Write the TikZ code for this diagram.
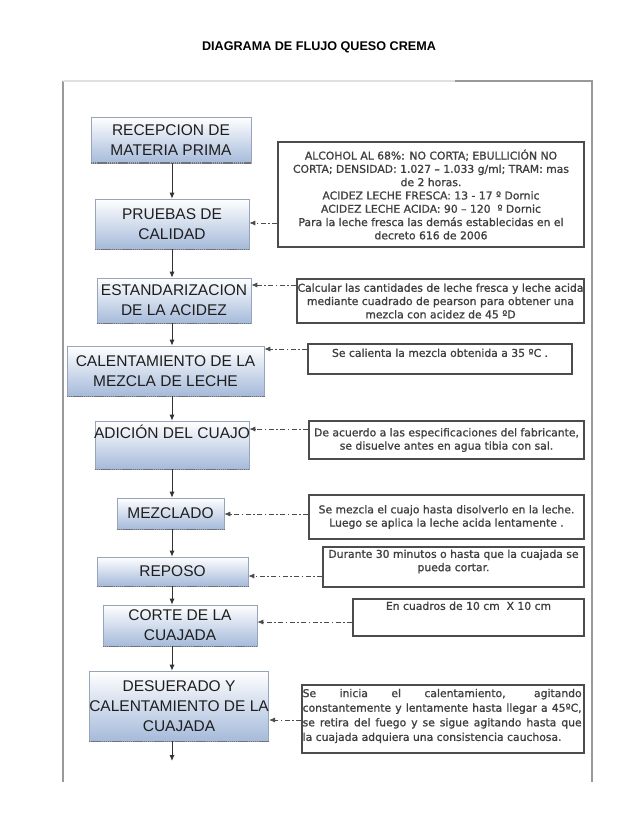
\documentclass[tikz,border=0pt]{standalone}
\usepackage{fontspec}
\setmainfont{Liberation Sans}
\newfontfamily\notefont{DejaVu Sans}[FakeBold=1.2]
\usetikzlibrary{arrows.meta}
\definecolor{procblue}{RGB}{165,186,218}
\definecolor{procborder}{RGB}{150,165,188}
\begin{document}
\begin{tikzpicture}[x=1pt,y=-1pt,
  proc/.style={draw=procborder, line width=0.6pt, top color=white, bottom color=procblue,
    inner sep=0pt, align=center, font=\fontsize{15.5}{20}\selectfont, text=black!88},
  proctext/.style={inner sep=0pt, font=\fontsize{15.5}{20}\selectfont, text=black!88},
  note/.style={draw=black!70, line width=1.1pt, inner sep=0pt, align=center,
    font=\notefont\fontsize{10.8}{13.3}\selectfont, text=black!75},
  notetext/.style={inner sep=0pt, align=center, font=\notefont\fontsize{10.8}{13.3}\selectfont, text=black!75},
  flow/.style={-{Latex[length=6pt,width=5pt]}, line width=0.9pt, draw=black!80},
  link/.style={-{Latex[length=6pt,width=5pt]}, line width=0.8pt, draw=black!70,
    dash pattern=on 5pt off 2.5pt on 1.5pt off 2.5pt},
  shadowline/.style={draw=black!55, line width=1.6pt, dash pattern=on 1.5pt off 0.6pt},
  framegray/.style={draw=black!40, line width=1.4pt}
]
\useasboundingbox (0,0) rectangle (638,826);
\fill[white] (0,0) rectangle (638,826);

% title
\node[font=\bfseries\fontsize{12.6}{15}\selectfont] (title) at (319,47.5) {DIAGRAMA DE FLUJO QUESO CREMA};

% frame
\draw[framegray] (63,782) -- (63,81);
\draw[draw=black!12, line width=1.4pt] (63,81) -- (455,81);
\draw[framegray] (455,81) -- (592,81) -- (592,782);

% process boxes
\node[proc, minimum width=160pt, minimum height=46pt] (b1) at (171,140) {RECEPCION DE\\MATERIA PRIMA};
\node[proc, minimum width=154pt, minimum height=50pt] (b2) at (172,224) {PRUEBAS DE\\CALIDAD};
\node[proc, minimum width=154pt, minimum height=45pt] (b3) at (174,300.5) {ESTANDARIZACION\\DE LA ACIDEZ};
\node[proc, minimum width=197pt, minimum height=50pt] (b4) at (165.5,371) {CALENTAMIENTO DE LA\\MEZCLA DE LECHE};
\node[proc, minimum width=154pt, minimum height=48pt] (b5) at (172,445) {};
\node[proctext, anchor=north] (t5) at ([yshift=-4pt]b5.north) {ADICIÓN DEL CUAJO};
\node[proc, minimum width=107pt, minimum height=31pt] (b6) at (170.5,513.5) {MEZCLADO};
\node[proc, minimum width=151pt, minimum height=29pt] (b7) at (172.5,571.5) {REPOSO};
\node[proc, minimum width=154pt, minimum height=41pt] (b8) at (180,625.5) {CORTE DE LA\\CUAJADA};
\node[proc, minimum width=174pt, minimum height=70pt] (b9) at (179,706) {DESUERADO Y\\CALENTAMIENTO DE LA\\CUAJADA};

\foreach \b in {b1,b2,b3,b4,b5,b6,b7,b8,b9}{
  \draw[shadowline] (\b.south west) -- (\b.south east);
}

% notes
\node[note, minimum width=306pt, minimum height=105pt] (n1) at (431,194.5)
  {ALCOHOL AL 68\%: NO CORTA; EBULLICIÓN NO\\CORTA; DENSIDAD: 1.027 – 1.033 g/ml; TRAM: mas\\de 2 horas.\\ACIDEZ LECHE FRESCA: 13 - 17 º Dornic\\ACIDEZ LECHE ACIDA: 90 – 120 \ º Dornic\\Para la leche fresca las demás establecidas en el\\decreto 616 de 2006};
\node[note, minimum width=287pt, minimum height=44pt] (n3) at (440.5,301)
  {Calcular las cantidades de leche fresca y leche acida\\mediante cuadrado de pearson para obtener una\\mezcla con acidez de 45 ºD};
\node[note, minimum width=264pt, minimum height=30pt] (n4) at (440,359) {};
\node[notetext, anchor=north] (t4) at ([yshift=-5pt]n4.north) {Se calienta la mezcla obtenida a 35 ºC .};
\node[note, minimum width=275pt, minimum height=38pt] (n5) at (446.5,440)
  {De acuerdo a las especificaciones del fabricante,\\se disuelve antes en agua tibia con sal.};
\node[note, minimum width=275pt, minimum height=44pt] (n6) at (446.5,517)
  {Se mezcla el cuajo hasta disolverlo en la leche.\\Luego se aplica la leche acida lentamente .};
\node[note, minimum width=261pt, minimum height=40pt] (n7) at (453.5,567) {};
\node[notetext, anchor=north] (t7) at ([yshift=-3pt]n7.north) {Durante 30 minutos o hasta que la cuajada se\\pueda cortar.};
\node[note, minimum width=231pt, minimum height=37pt] (n8) at (468.5,617.5) {};
\node[notetext, anchor=north] (t8) at ([yshift=-3pt]n8.north) {En cuadros de 10 cm \ X 10 cm};
\node[note, minimum width=282pt, minimum height=68pt] (n9) at (443,719) {};
\node[notetext, anchor=west, align=left, font=\notefont\fontsize{10.8}{14.6}\selectfont] (t9) at ([xshift=1pt,yshift=3pt]n9.west)
  {\makebox[279pt][s]{Se inicia el calentamiento, agitando}\\
   \makebox[279pt][s]{constantemente y lentamente hasta llegar a 45ºC,}\\
   \makebox[279pt][s]{se retira del fuego y se sigue agitando hasta que}\\
   la cuajada adquiera una consistencia cauchosa.};

% vertical flow
\coordinate (spine) at (172,0);
\coordinate (end) at (172,761);
\draw[flow] (b1.south -| spine) -- (b2.north -| spine);
\draw[flow] (b2.south -| spine) -- (b3.north -| spine);
\draw[flow] (b3.south -| spine) -- (b4.north -| spine);
\draw[flow] (b4.south -| spine) -- (b5.north -| spine);
\draw[flow] (b5.south -| spine) -- (b6.north -| spine);
\draw[flow] (b6.south -| spine) -- (b7.north -| spine);
\draw[flow] (b7.south -| spine) -- (b8.north -| spine);
\draw[flow] (b8.south -| spine) -- (b9.north -| spine);
\draw[flow] (b9.south -| spine) -- (end);

% dashed links
\coordinate (l2) at (0,223);
\coordinate (l3) at (0,285);
\coordinate (l4) at (0,349);
\coordinate (l5) at (0,429);
\coordinate (l6) at (0,514);
\coordinate (l7) at (0,576);
\coordinate (l8) at (0,622);
\coordinate (l9) at (0,720);
\draw[link] (n1.west |- l2) -- (b2.east |- l2);
\draw[link] (n3.west |- l3) -- (b3.east |- l3);
\draw[link] (n4.west |- l4) -- (b4.east |- l4);
\draw[link] (n5.west |- l5) -- (b5.east |- l5);
\draw[link] (n6.west |- l6) -- (b6.east |- l6);
\draw[link] (n7.west |- l7) -- (b7.east |- l7);
\draw[link] (n8.west |- l8) -- (b8.east |- l8);
\draw[link] (n9.west |- l9) -- (b9.east |- l9);
\end{tikzpicture}
\end{document}
